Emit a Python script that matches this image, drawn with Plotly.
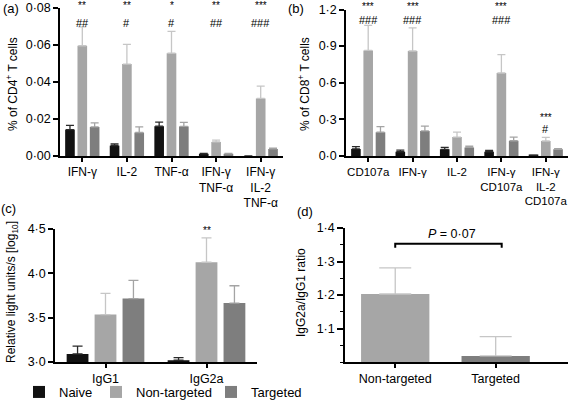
import plotly.graph_objects as go

# ---------------- data ----------------
# Panel (a): % of CD4+ T cells
cats_a = ["IFN-γ", "IL-2", "TNF-α", "IFN-γ<br>TNF-α", "IFN-γ<br>IL-2<br>TNF-α"]
a_naive = [0.0143, 0.0056, 0.0161, 0.0012, 0.0]
a_naive_sem = [0.0023, 0.0009, 0.0022, 0.0002, 0.0]
a_non = [0.0596, 0.0497, 0.0556, 0.0076, 0.0311]
a_non_sem = [0.0102, 0.0106, 0.0118, 0.0010, 0.0067]
a_tar = [0.0157, 0.0127, 0.0160, 0.0012, 0.0038]
a_tar_sem = [0.0022, 0.0030, 0.0022, 0.0002, 0.0005]
a_stars = ["**", "**", "*", "**", "***"]
a_hash = ["##", "#", "#", "##", "###"]

# Panel (b): % of CD8+ T cells
cats_b = ["CD107a", "IFN-γ", "IL-2", "IFN-γ<br>CD107a", "IFN-γ<br>IL-2<br>CD107a"]
b_naive = [0.058, 0.035, 0.055, 0.035, 0.005]
b_naive_sem = [0.018, 0.013, 0.016, 0.011, 0.0]
b_non = [0.865, 0.860, 0.155, 0.680, 0.123]
b_non_sem = [0.205, 0.190, 0.040, 0.150, 0.030]
b_tar = [0.195, 0.205, 0.070, 0.125, 0.055]
b_tar_sem = [0.045, 0.040, 0.010, 0.030, 0.006]
b_stars = ["***", "***", "", "***", "***"]
b_hash = ["###", "###", "", "###", "#"]

# Panel (c): relative light units/s [log10]
cats_c = ["IgG1", "IgG2a"]
c_naive = [3.09, 3.02]
c_naive_sem = [0.09, 0.03]
c_non = [3.535, 4.125]
c_non_sem = [0.24, 0.275]
c_tar = [3.715, 3.665]
c_tar_sem = [0.205, 0.195]
c_stars = ["", "**"]

# Panel (d): IgG2a/IgG1 ratio
cats_d = ["Non-targeted", "Targeted"]
d_vals = [1.203, 1.018]
d_sem = [0.078, 0.058]
d_p_text = "<i>P</i> = 0·07"

group_names = ["Naive", "Non-targeted", "Targeted"]

# ---------------- style ----------------
FONT = "Liberation Sans, Arial, sans-serif"
col_bar = ["#121212", "#a6a6a6", "#7e7e7e"]
col_err = ["#2a2a2a", "#c6c6c6", "#a4a4a4"]
W, H = 570, 400
legend_ids = ["legend", "legend2", "legend3"]
legend_x = [19, 96, 211]  # left edge (px) of each legend entry


def dotfmt(v, nd):
    return f"{v:.{nd}f}".replace(".", "·")


fig = go.Figure()


def add_group(x, ys, sems, xa, ya, showlegend, capw):
    for i in range(3):
        fig.add_trace(go.Bar(
            x=x, y=ys[i], name=group_names[i],
            marker=dict(color=col_bar[i], line=dict(width=0)),
            error_y=dict(type="data", symmetric=False, array=sems[i],
                         arrayminus=[0] * len(sems[i]),
                         color=col_err[i], thickness=1.3, width=capw),
            xaxis=xa, yaxis=ya, showlegend=showlegend, legend=legend_ids[i],
            legendgroup=group_names[i], cliponaxis=False,
        ))


add_group(cats_a, [a_naive, a_non, a_tar], [a_naive_sem, a_non_sem, a_tar_sem], "x", "y", False, 4)
add_group(cats_b, [b_naive, b_non, b_tar], [b_naive_sem, b_non_sem, b_tar_sem], "x2", "y2", False, 4)
add_group(cats_c, [c_naive, c_non, c_tar], [c_naive_sem, c_non_sem, c_tar_sem], "x3", "y3", True, 5)

fig.add_trace(go.Bar(
    x=cats_d, y=d_vals, width=0.68,
    marker=dict(color=[col_bar[1], col_bar[2]], line=dict(width=0)),
    error_y=dict(type="data", symmetric=False, array=d_sem, arrayminus=[0, 0],
                 color=col_err[1], thickness=1.3, width=16),
    xaxis="x4", yaxis="y4", showlegend=False,
))

ann = []
SF = dict(size=10, family=FONT, color="black")
HF = dict(size=11, family=FONT, color="black")
# significance marks (top row placed relative to the axis domain)
for i, c in enumerate(cats_a):
    ann.append(dict(x=c, y=1.015, xref="x", yref="y domain", text=a_stars[i], showarrow=False,
                    font=SF, yanchor="middle"))
    ann.append(dict(x=c, y=0.9, xref="x", yref="y domain", text=a_hash[i], showarrow=False,
                    font=HF, yanchor="middle"))
for i, c in enumerate(cats_b):
    if not b_stars[i]:
        continue
    if b_non[i] + b_non_sem[i] > 0.5:
        ann.append(dict(x=c, y=1.02, xref="x2", yref="y2 domain", text=b_stars[i],
                        showarrow=False, font=SF, yanchor="middle"))
        ann.append(dict(x=c, y=0.93, xref="x2", yref="y2 domain", text=b_hash[i],
                        showarrow=False, font=HF, yanchor="middle"))
    else:
        ys = b_non[i] + b_non_sem[i] + 0.166
        ann.append(dict(x=c, y=ys, xref="x2", yref="y2", text=b_stars[i], showarrow=False,
                        font=SF, yanchor="middle"))
        ann.append(dict(x=c, y=ys - 0.095, xref="x2", yref="y2", text=b_hash[i],
                        showarrow=False, font=HF, yanchor="middle"))
for i, c in enumerate(cats_c):
    if c_stars[i]:
        ann.append(dict(x=c, y=c_non[i] + c_non_sem[i] + 0.085, xref="x3", yref="y3",
                        text=c_stars[i], showarrow=False, font=SF, yanchor="middle"))

# bracket in panel (d)
br_y = max(v + s for v, s in zip(d_vals, d_sem)) + 0.072
shapes = [dict(type="path", xref="x4", yref="y4",
               path=f"M 0,{br_y - 0.012} L 0,{br_y} L 1.06,{br_y} L 1.06,{br_y - 0.012}",
               line=dict(color="black", width=2))]
ann.append(dict(x=0.57, y=br_y + 0.03, xref="x4", yref="y4", text=d_p_text, showarrow=False,
                font=dict(size=12.5, family=FONT, color="black"), yanchor="middle"))


# panel labels and axis titles
def pann(x, y, text, size=12, angle=0):
    ann.append(dict(x=x / W, y=1 - y / H, xref="paper", yref="paper", text=text,
                    showarrow=False, textangle=angle,
                    font=dict(size=size, family=FONT, color="black"),
                    xanchor="center", yanchor="middle"))


pann(11, 9, "(a)", 13)
pann(296, 9, "(b)", 13)
pann(8, 208, "(c)", 13)
pann(305, 211, "(d)", 13)
pann(12, 84, "% of CD4<sup>+</sup> T cells", 12, -90)
pann(304, 84, "% of CD8<sup>+</sup> T cells", 12, -90)
pann(12, 292, "Relative light units/s [log<sub>10</sub>]", 12, -90)
pann(301, 293, "IgG2a/IgG1 ratio", 12, -90)

axis_common = dict(showline=True, linecolor="black", linewidth=1.5, ticks="outside",
                   tickcolor="black", tickwidth=1.5, showgrid=False, zeroline=False,
                   tickfont=dict(size=12.5, family=FONT, color="black"))


def xcat(size):
    return dict(axis_common, ticklen=4, tickangle=0,
                tickfont=dict(size=size, family=FONT, color="black"))


ta = [0, 0.02, 0.04, 0.06, 0.08]
tb = [0, 0.3, 0.6, 0.9, 1.2]
tc = [3.0, 3.5, 4.0, 4.5]
td = [1.1, 1.2, 1.3, 1.4]

legends = {}
for lid, lx in zip(legend_ids, legend_x):
    legends[lid] = dict(orientation="h", x=lx / W, y=1 - 392 / H, xanchor="left",
                        yanchor="middle", font=dict(size=13, family=FONT, color="black"),
                        itemwidth=30, bgcolor="rgba(0,0,0,0)", itemclick=False)

fig.update_layout(
    width=W, height=H, margin=dict(l=0, r=0, t=0, b=0, autoexpand=False),
    paper_bgcolor="white", plot_bgcolor="white",
    barmode="group", bargap=0.17, bargroupgap=0.22,
    font=dict(family=FONT, color="black"),
    xaxis=dict(xcat(12), domain=[60 / W, 283 / W], anchor="y"),
    yaxis=dict(axis_common, domain=[1 - 156 / H, 1 - 8 / H], range=[0, 0.08], anchor="x",
               tickvals=ta, ticktext=[dotfmt(v, 2) for v in ta], ticklen=5),
    xaxis2=dict(xcat(11.5), domain=[346 / W, 568 / W], anchor="y2"),
    yaxis2=dict(axis_common, domain=[1 - 156 / H, 1 - 9.5 / H], range=[0, 1.2], anchor="x2",
                tickvals=tb, ticktext=[dotfmt(v, 1) for v in tb], ticklen=5),
    xaxis3=dict(xcat(12.5), domain=[55 / W, 257 / W], anchor="y3", range=[-0.5, 1.5]),
    yaxis3=dict(axis_common, domain=[1 - 362 / H, 1 - 229 / H], range=[3.0, 4.5], anchor="x3",
                tickvals=tc, ticktext=[dotfmt(v, 1) for v in tc], ticklen=5),
    xaxis4=dict(xcat(12.5), domain=[345 / W, 568 / W], anchor="y4", range=[-0.5, 1.72]),
    yaxis4=dict(axis_common, domain=[1 - 362 / H, 1 - 228 / H], range=[1.0, 1.4], anchor="x4",
                tickvals=td, ticktext=[dotfmt(v, 1) for v in td], ticklen=6,
                minor=dict(dtick=0.05, tick0=1.0, ticks="outside", ticklen=3,
                           tickcolor="black", tickwidth=1.2)),
    annotations=ann, shapes=shapes,
    **legends,
)

fig.write_html(
    "out.html",
    config={"displayModeBar": False},
    post_script="document.body.style.margin='0';document.body.style.overflow='hidden';",
)
